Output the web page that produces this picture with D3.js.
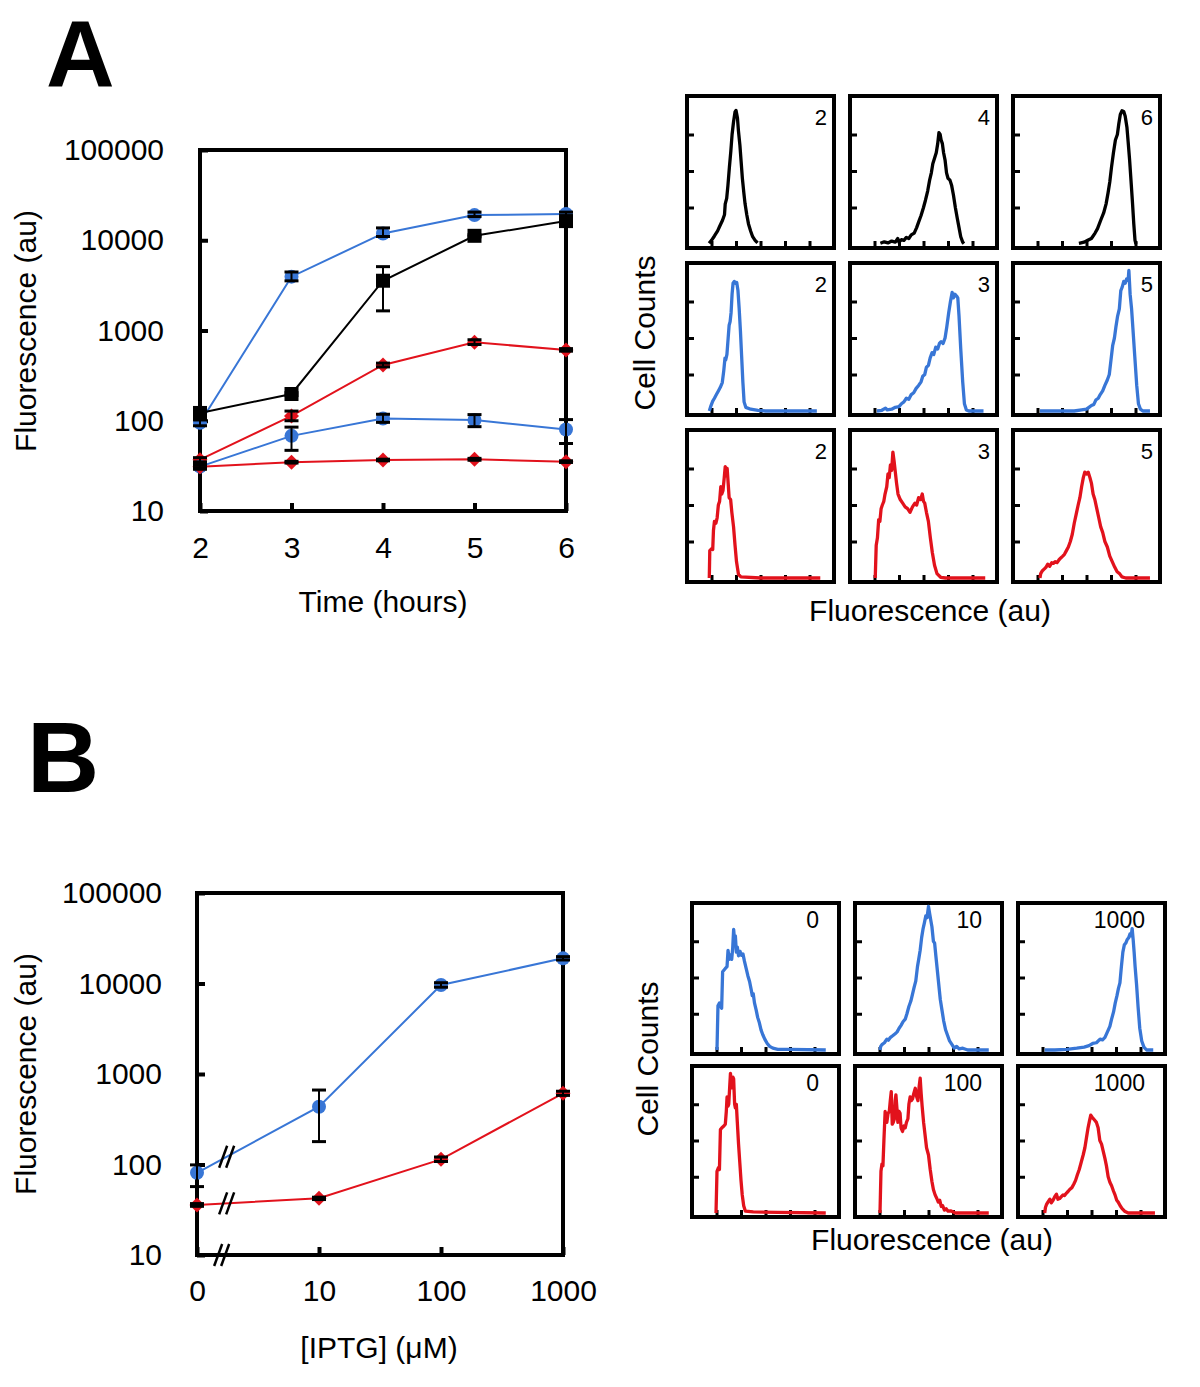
<!DOCTYPE html>
<html><head><meta charset="utf-8">
<script src="https://cdn.jsdelivr.net/npm/d3@7"></script>
<style>
body{margin:0;background:#fff;}
svg text{font-family:"Liberation Sans",Arial,Helvetica,sans-serif;fill:#000;}
</style></head><body>
<svg id="c" width="1200" height="1387" xmlns="http://www.w3.org/2000/svg"></svg>
<script>
// ---------------- DATA ----------------
const BLUE = "#3876d6", RED = "#e2121c", BLACK = "#000";
// Panel A time course
const timeHours = [2, 3, 4, 5, 6];
const fluorTicks = [10, 100, 1000, 10000, 100000];
const blueHigh   = [95, 3950, 11900, 19000, 19500];
const blueHighLo = [88, 3550, 11000, 18300, 18500];
const blueHighHi = [102, 4450, 13700, 20500, 20500];
const blackSq    = [122, 198, 3560, 11200, 16300];
const blackSqLo  = [115, 190, 1650, 10900, 15500];
const blackSqHi  = [128, 205, 5100, 11500, 17300];
const redHigh    = [37, 113, 415, 740, 608];
const redHighLo  = [35, 100, 395, 700, 590];
const redHighHi  = [39, 128, 435, 790, 630];
const blueLow    = [31, 68, 106, 102, 80];
const blueLowLo  = [29, 47, 96, 86, 56];
const blueLowHi  = [33, 85, 118, 117, 103];
const redLow     = [31, 34.6, 36.7, 37.4, 35.2];
const redLowLo   = [30, 34, 36, 36.5, 34.5];
const redLowHi   = [32, 35.5, 37.5, 38.3, 36];
// Panel B IPTG dose response
const iptgConc   = [0, 10, 100, 1000];
const iptgLabels = ["0", "10", "100", "1000"];
const blueIptg   = [81, 435, 9620, 18970];
const blueIptgLo = [57, 179, 9100, 18200];
const blueIptgHi = [99, 665, 10200, 19800];
const redIptg    = [35.7, 42.3, 114, 612];
const redIptgLo  = [34.5, 41, 108, 580];
const redIptgHi  = [37, 43.5, 121, 645];

// Histograms: [x (0..6 log-fluor units), y (0..4 count units)]
const hA_k2 = [[0.9,0.02],[1.0,0.1],[1.12,0.22],[1.25,0.36],[1.33,0.48],[1.45,0.65],[1.53,0.8],[1.56,1.1],[1.62,1.25],[1.67,1.6],[1.73,2.1],[1.79,2.55],[1.84,3.0],[1.9,3.35],[1.96,3.62],[2.0,3.66],[2.06,3.45],[2.1,3.1],[2.16,2.7],[2.21,2.25],[2.26,1.8],[2.32,1.4],[2.37,1.1],[2.44,0.8],[2.51,0.55],[2.6,0.35],[2.68,0.2],[2.78,0.1],[2.88,0.03]];
const hA_k4 = [[1.24,0.02],[1.4,0.06],[1.55,0.03],[1.7,0.08],[1.85,0.05],[1.95,0.15],[2.0,0.05],[2.1,0.12],[2.2,0.1],[2.3,0.18],[2.4,0.15],[2.5,0.25],[2.62,0.3],[2.72,0.45],[2.8,0.6],[2.9,0.78],[3.0,1.0],[3.08,1.2],[3.17,1.45],[3.25,1.75],[3.32,1.95],[3.38,2.2],[3.45,2.35],[3.52,2.5],[3.58,2.75],[3.63,3.05],[3.68,3.0],[3.72,2.85],[3.77,2.75],[3.82,2.5],[3.88,2.3],[3.94,1.95],[4.0,1.8],[4.08,1.75],[4.15,1.6],[4.22,1.35],[4.3,1.0],[4.38,0.7],[4.45,0.45],[4.52,0.2],[4.6,0.05],[4.65,0.01]];
const hA_k6 = [[2.69,0.02],[2.9,0.05],[3.05,0.1],[3.2,0.15],[3.35,0.3],[3.45,0.42],[3.58,0.65],[3.7,0.85],[3.8,1.1],[3.88,1.4],[3.95,1.7],[4.02,2.1],[4.1,2.5],[4.18,2.85],[4.26,3.0],[4.32,3.3],[4.38,3.55],[4.45,3.65],[4.52,3.63],[4.58,3.5],[4.65,3.2],[4.7,2.8],[4.76,2.3],[4.82,1.7],[4.88,1.1],[4.93,0.55],[4.98,0.1],[5.02,0.0]];
const hA_b2 = [[0.91,0.0],[0.98,0.15],[1.05,0.27],[1.12,0.35],[1.2,0.45],[1.28,0.55],[1.36,0.65],[1.44,0.78],[1.5,1.1],[1.55,1.45],[1.58,1.4],[1.63,1.55],[1.68,2.0],[1.72,2.35],[1.76,2.45],[1.8,2.7],[1.84,3.2],[1.88,3.5],[1.93,3.55],[1.98,3.5],[2.03,3.52],[2.08,3.3],[2.13,2.8],[2.18,2.2],[2.23,1.5],[2.28,0.8],[2.33,0.25],[2.4,0.1],[2.6,0.05],[2.9,0.02],[3.2,0.0],[4.0,0.0],[5.3,0.0]];
const hA_b3 = [[1.1,0.0],[1.3,0.02],[1.45,0.08],[1.52,0.03],[1.7,0.05],[1.85,0.1],[2.0,0.12],[2.1,0.2],[2.2,0.25],[2.3,0.35],[2.4,0.32],[2.5,0.45],[2.6,0.5],[2.7,0.62],[2.8,0.7],[2.9,0.8],[2.97,0.95],[3.05,1.0],[3.12,1.2],[3.2,1.25],[3.27,1.45],[3.35,1.6],[3.42,1.55],[3.5,1.75],[3.58,1.7],[3.65,1.85],[3.72,1.9],[3.8,1.85],[3.88,2.0],[3.95,2.3],[4.03,2.7],[4.1,3.0],[4.17,3.25],[4.22,3.1],[4.28,3.2],[4.35,3.15],[4.4,3.1],[4.45,2.6],[4.52,1.7],[4.6,0.8],[4.67,0.2],[4.75,0.03],[4.85,0.0],[5.45,0.0]];
const hA_b5 = [[1.1,0],[2.0,0],[2.5,0.0],[2.8,0.03],[3.0,0.05],[3.1,0.1],[3.2,0.15],[3.3,0.18],[3.38,0.3],[3.48,0.35],[3.56,0.45],[3.66,0.55],[3.75,0.7],[3.85,0.85],[3.93,1.0],[4.0,1.4],[4.07,1.8],[4.14,2.0],[4.2,2.3],[4.27,2.6],[4.34,2.8],[4.4,3.3],[4.46,3.4],[4.52,3.55],[4.58,3.5],[4.64,3.62],[4.7,3.58],[4.73,3.85],[4.78,3.2],[4.84,2.8],[4.9,2.2],[4.97,1.5],[5.05,0.7],[5.12,0.2],[5.2,0.05],[5.3,0],[5.59,0]];
const hA_r2 = [[0.91,0],[0.93,0.75],[1.0,0.8],[1.05,0.78],[1.08,1.3],[1.12,1.55],[1.18,1.5],[1.23,1.65],[1.28,2.0],[1.33,2.1],[1.38,2.5],[1.42,2.3],[1.47,2.4],[1.52,2.75],[1.56,3.05],[1.6,2.8],[1.64,3.0],[1.68,2.6],[1.72,2.2],[1.78,2.15],[1.83,1.8],[1.9,1.4],[1.96,0.9],[2.02,0.45],[2.1,0.1],[2.2,0.03],[3.0,0],[5.44,0]];
const hA_r3 = [[1.03,0],[1.07,0.9],[1.12,1.1],[1.17,1.6],[1.22,1.55],[1.27,1.9],[1.32,2.0],[1.38,2.1],[1.43,2.3],[1.5,2.5],[1.55,2.85],[1.6,2.75],[1.65,3.1],[1.7,2.95],[1.75,3.45],[1.8,3.2],[1.85,2.9],[1.9,2.6],[1.96,2.3],[2.05,2.15],[2.15,2.05],[2.25,1.95],[2.35,1.9],[2.45,1.8],[2.55,1.95],[2.65,2.05],[2.72,2.0],[2.8,2.2],[2.88,2.15],[2.95,2.3],[3.0,2.1],[3.05,2.05],[3.12,1.8],[3.2,1.55],[3.28,1.1],[3.36,0.7],[3.45,0.35],[3.55,0.12],[3.7,0.02],[3.9,0],[5.52,0]];
const hA_r5 = [[1.1,0],[1.13,0.12],[1.2,0.2],[1.28,0.25],[1.35,0.3],[1.42,0.38],[1.5,0.32],[1.58,0.42],[1.65,0.4],[1.72,0.45],[1.8,0.42],[1.88,0.5],[1.95,0.55],[2.03,0.6],[2.1,0.65],[2.18,0.75],[2.26,0.85],[2.34,1.0],[2.42,1.2],[2.5,1.5],[2.58,1.75],[2.66,2.0],[2.73,2.2],[2.8,2.5],[2.87,2.75],[2.93,2.9],[3.0,2.85],[3.07,2.9],[3.14,2.75],[3.2,2.6],[3.27,2.3],[3.34,2.15],[3.42,1.9],[3.5,1.65],[3.58,1.4],[3.66,1.25],[3.75,1.0],[3.85,0.85],[3.95,0.6],[4.05,0.45],[4.15,0.3],[4.25,0.17],[4.35,0.12],[4.45,0.03],[4.6,0],[5.59,0]];
const hB_b0 = [[1.02,0],[1.06,1.22],[1.12,1.3],[1.17,1.2],[1.21,1.15],[1.25,2.16],[1.3,2.2],[1.36,2.25],[1.43,2.3],[1.47,2.75],[1.52,2.5],[1.57,2.62],[1.62,2.5],[1.66,2.8],[1.7,3.33],[1.74,3.0],[1.77,3.15],[1.81,2.7],[1.85,2.84],[1.9,2.6],[1.96,2.72],[2.02,2.61],[2.08,2.65],[2.14,2.45],[2.21,2.25],[2.28,2.05],[2.35,1.89],[2.42,1.65],[2.46,1.5],[2.5,1.55],[2.55,1.3],[2.62,1.1],[2.68,0.9],[2.75,0.75],[2.82,0.55],[2.89,0.42],[2.97,0.3],[3.07,0.18],[3.17,0.1],[3.3,0.05],[3.5,0.02],[4.0,0.02],[5.46,0]];
const hB_b10 = [[1.02,0],[1.05,0.1],[1.1,0.15],[1.2,0.2],[1.3,0.3],[1.36,0.27],[1.45,0.35],[1.55,0.4],[1.64,0.45],[1.72,0.5],[1.8,0.6],[1.88,0.68],[1.96,0.78],[2.05,0.85],[2.12,1.0],[2.2,1.2],[2.28,1.35],[2.35,1.55],[2.42,1.75],[2.48,1.9],[2.55,2.3],[2.6,2.5],[2.66,2.75],[2.72,3.1],[2.78,3.35],[2.83,3.5],[2.89,3.7],[2.94,3.65],[3.0,3.96],[3.05,3.75],[3.1,3.55],[3.14,3.4],[3.2,3.0],[3.25,2.95],[3.3,2.6],[3.36,2.2],[3.42,1.8],[3.48,1.4],[3.55,1.1],[3.62,0.8],[3.7,0.55],[3.78,0.4],[3.86,0.25],[3.96,0.15],[4.05,0.05],[4.15,0.1],[4.25,0.03],[4.4,0.05],[4.6,0],[5.46,0]];
const hB_b1000 = [[1.09,0],[1.5,0],[2.0,0.02],[2.4,0.05],[2.7,0.08],[2.9,0.12],[3.05,0.18],[3.2,0.2],[3.35,0.3],[3.45,0.28],[3.55,0.35],[3.65,0.5],[3.75,0.65],[3.82,0.85],[3.9,1.05],[3.97,1.3],[4.04,1.5],[4.1,1.7],[4.16,1.85],[4.22,2.3],[4.28,2.7],[4.34,2.9],[4.4,2.95],[4.46,3.05],[4.52,3.1],[4.57,3.2],[4.62,3.15],[4.66,3.35],[4.7,3.05],[4.74,2.7],[4.78,2.3],[4.84,1.8],[4.9,1.2],[4.97,0.6],[5.05,0.25],[5.14,0.08],[5.25,0],[5.52,0]];
const hB_r0 = [[0.98,0],[1.02,1.15],[1.08,1.25],[1.12,1.2],[1.16,2.3],[1.22,2.35],[1.3,2.4],[1.36,2.45],[1.4,2.8],[1.43,3.2],[1.47,2.95],[1.5,3.0],[1.54,3.5],[1.57,3.85],[1.6,3.6],[1.64,3.45],[1.67,3.75],[1.7,3.7],[1.74,3.0],[1.77,2.9],[1.81,3.0],[1.85,2.5],[1.9,1.9],[1.95,1.4],[2.0,0.9],[2.05,0.5],[2.11,0.2],[2.18,0.05],[2.5,0.03],[3.5,0.02],[5.46,0]];
const hB_r100 = [[1.02,0],[1.06,1.15],[1.1,1.35],[1.14,1.3],[1.18,2.0],[1.23,2.8],[1.27,2.6],[1.3,2.5],[1.35,2.75],[1.4,2.8],[1.44,3.1],[1.48,3.35],[1.52,2.45],[1.56,2.5],[1.61,2.6],[1.64,3.1],[1.67,3.26],[1.71,2.9],[1.75,2.5],[1.8,2.8],[1.84,2.75],[1.88,2.35],[1.94,2.25],[2.0,2.4],[2.05,2.35],[2.1,2.5],[2.16,2.6],[2.2,3.0],[2.25,3.2],[2.3,3.1],[2.35,3.15],[2.4,3.3],[2.46,3.44],[2.52,3.2],[2.57,3.1],[2.62,3.5],[2.66,3.72],[2.7,3.3],[2.74,2.95],[2.8,2.5],[2.86,2.15],[2.92,1.8],[3.0,1.6],[3.07,1.2],[3.14,0.87],[3.2,0.65],[3.27,0.5],[3.34,0.4],[3.4,0.3],[3.46,0.35],[3.52,0.18],[3.58,0.2],[3.65,0.08],[3.72,0.12],[3.8,0.05],[3.9,0.06],[4.1,0.0],[5.46,0]];
const hB_r1000 = [[1.09,0],[1.12,0.15],[1.16,0.23],[1.22,0.3],[1.3,0.38],[1.36,0.28],[1.43,0.35],[1.5,0.45],[1.57,0.52],[1.63,0.38],[1.7,0.4],[1.77,0.45],[1.84,0.5],[1.9,0.48],[1.98,0.55],[2.05,0.6],[2.11,0.65],[2.2,0.7],[2.28,0.8],[2.35,0.9],[2.42,1.05],[2.5,1.2],[2.58,1.4],[2.66,1.6],[2.73,1.8],[2.8,2.1],[2.86,2.35],[2.92,2.55],[2.97,2.7],[3.02,2.65],[3.08,2.6],[3.14,2.55],[3.2,2.5],[3.27,2.35],[3.34,2.0],[3.41,1.9],[3.48,1.7],[3.55,1.5],[3.61,1.3],[3.68,1.0],[3.75,0.85],[3.82,0.75],[3.9,0.6],[3.96,0.5],[4.03,0.35],[4.09,0.3],[4.17,0.2],[4.25,0.12],[4.35,0.05],[4.5,0],[5.59,0]];
const histLabelsA = [["2","4","6"],["2","3","5"],["2","3","5"]];
const histLabelsB = [["0","10","1000"],["0","100","1000"]];

// ---------------- DRAWING ----------------
const svg = d3.select("#c");

function frame(x, y, w, h) {
  svg.append("rect").attr("x", x).attr("y", y).attr("width", w).attr("height", h)
    .attr("fill", "none").attr("stroke", "#000").attr("stroke-width", 4);
}

function styleAxis(g, fs) {
  g.select(".domain").remove();
  g.selectAll(".tick line").attr("stroke", "#000").attr("stroke-width", 4);
  g.selectAll(".tick text").attr("font-size", fs).attr("fill", "#000")
    .attr("font-family", '"Liberation Sans", Arial, sans-serif');
}

function marker(g, type, x, y, color) {
  if (type === "circle") g.append("circle").attr("cx", x).attr("cy", y).attr("r", 7).attr("fill", color);
  else if (type === "square") g.append("path").attr("d", d3.symbol(d3.symbolSquare, 196)()).attr("transform", `translate(${x},${y})`).attr("fill", color);
  else g.append("path").attr("d", d3.symbol(d3.symbolSquare, 112)()).attr("transform", `translate(${x},${y}) rotate(45)`).attr("fill", color);
}

function drawSeries(xs, ys, series) {
  const g = svg.append("g");
  const line = d3.line().x(d => d[0]).y(d => d[1]);
  series.forEach(s => {
    const pts = s.v.map((v, i) => [xs(s.x[i]), ys(v)]);
    g.append("path").attr("d", line(pts)).attr("fill", "none").attr("stroke", s.c).attr("stroke-width", 2);
  });
  series.forEach(s => {
    s.v.forEach((v, i) => marker(g, s.m, xs(s.x[i]), ys(v), s.c));
  });
  series.forEach(s => {
    s.v.forEach((v, i) => {
      const x = xs(s.x[i]), y0 = ys(s.lo[i]), y1 = ys(s.hi[i]);
      g.append("line").attr("x1", x).attr("x2", x).attr("y1", y0).attr("y2", y1).attr("stroke", "#000").attr("stroke-width", 2);
      [y0, y1].forEach(yy => g.append("line").attr("x1", x - 7).attr("x2", x + 7).attr("y1", yy).attr("y2", yy).attr("stroke", "#000").attr("stroke-width", 3));
    });
  });
}

// ---- Panel A main chart ----
const axL = 200, axR = 566, axT = 150, axB = 511;
const xA = d3.scaleLinear().domain([2, 6]).range([axL, axR]);
const yA = d3.scaleLog().domain([10, 100000]).range([axB, axT]);
frame(axL, axT, axR - axL, axB - axT);
styleAxis(svg.append("g").attr("transform", `translate(${axL},0)`)
  .call(d3.axisLeft(yA).tickValues(fluorTicks).tickFormat(d3.format("d")).tickSizeInner(-8).tickSizeOuter(0).tickPadding(36)), 30);
styleAxis(svg.append("g").attr("transform", `translate(0,${axB})`)
  .call(d3.axisBottom(xA).tickValues(timeHours).tickFormat(d3.format("d")).tickSizeInner(-8).tickSizeOuter(0).tickPadding(26)), 30);
drawSeries(xA, yA, [
  {x: timeHours, v: blueHigh, lo: blueHighLo, hi: blueHighHi, c: BLUE, m: "circle"},
  {x: timeHours, v: blackSq, lo: blackSqLo, hi: blackSqHi, c: BLACK, m: "square"},
  {x: timeHours, v: redHigh, lo: redHighLo, hi: redHighHi, c: RED, m: "diamond"},
  {x: timeHours, v: blueLow, lo: blueLowLo, hi: blueLowHi, c: BLUE, m: "circle"},
  {x: timeHours, v: redLow, lo: redLowLo, hi: redLowHi, c: RED, m: "diamond"}
]);
svg.append("text").attr("x", 383).attr("y", 612).attr("text-anchor", "middle").attr("font-size", 30).text("Time (hours)");
svg.append("text").attr("transform", "translate(36,331) rotate(-90)").attr("text-anchor", "middle").attr("font-size", 30).text("Fluorescence (au)");
svg.append("text").attr("x", 46).attr("y", 87).attr("font-size", 95).attr("font-weight", "bold").text("A");

// ---- Panel B main chart ----
const bL = 197, bR = 563, bT = 893, bB = 1255;
const xB = d3.scaleLog().domain([1, 1000]).range([bL, bR]);
const yB = d3.scaleLog().domain([10, 100000]).range([bB, bT]);
const xPos = c => Math.max(c, 1);
frame(bL, bT, bR - bL, bB - bT);
styleAxis(svg.append("g").attr("transform", `translate(${bL},0)`)
  .call(d3.axisLeft(yB).tickValues(fluorTicks).tickFormat(d3.format("d")).tickSizeInner(-8).tickSizeOuter(0).tickPadding(35)), 30);
styleAxis(svg.append("g").attr("transform", `translate(0,${bB})`)
  .call(d3.axisBottom(xB).tickValues(iptgConc.map(xPos)).tickFormat((d, i) => iptgLabels[i]).tickSizeInner(-8).tickSizeOuter(0).tickPadding(25)), 30);
const xB2 = v => xB(xPos(v));
drawSeries(xB2, yB, [
  {x: iptgConc, v: blueIptg, lo: blueIptgLo, hi: blueIptgHi, c: BLUE, m: "circle"},
  {x: iptgConc, v: redIptg, lo: redIptgLo, hi: redIptgHi, c: RED, m: "diamond"}
]);
// axis-break marks (//) between 0 and 10
function breakMark(cx, cy) {
  [-3.5, 3.5].forEach(dx => svg.append("line")
    .attr("x1", cx + dx - 4).attr("y1", cy + 11).attr("x2", cx + dx + 4).attr("y2", cy - 11)
    .attr("stroke", "#000").attr("stroke-width", 2.5));
}
const breakX = 1.75;
[blueIptg, redIptg].forEach(vals => {
  const x0 = xB(1), x1 = xB(10), y0 = yB(vals[0]), y1 = yB(vals[1]);
  const bx = xB(breakX);
  breakMark(bx, y0 + (y1 - y0) * (bx - x0) / (x1 - x0));
});
breakMark(xB(breakX) - 5, bB);
svg.append("text").attr("x", 379).attr("y", 1358).attr("text-anchor", "middle").attr("font-size", 30).text("[IPTG] (μM)");
svg.append("text").attr("transform", "translate(36,1074) rotate(-90)").attr("text-anchor", "middle").attr("font-size", 30).text("Fluorescence (au)");
svg.append("text").attr("x", 27).attr("y", 792).attr("font-size", 100).attr("font-weight", "bold").text("B");

// ---- Histograms ----
function hist(left, top, w, h, data, color, label, fs, labOff, labBase) {
  frame(left, top, w, h);
  const x = d3.scaleLinear().domain([0, 6]).range([left, left + w]);
  const y = d3.scaleLinear().domain([0, 4]).range([top + h - 4, top + 2]);
  const gl = svg.append("g").attr("transform", `translate(${left},0)`)
    .call(d3.axisLeft(y).tickValues([1, 2, 3]).tickFormat("").tickSizeInner(-7).tickSizeOuter(0));
  gl.select(".domain").remove();
  gl.selectAll(".tick line").attr("stroke", "#000").attr("stroke-width", 3);
  const gb = svg.append("g").attr("transform", `translate(0,${top + h})`)
    .call(d3.axisBottom(x).tickValues([1, 2, 3, 4, 5]).tickFormat("").tickSizeInner(-7).tickSizeOuter(0));
  gb.select(".domain").remove();
  gb.selectAll(".tick line").attr("stroke", "#000").attr("stroke-width", 3);
  svg.append("path").attr("d", d3.line().x(d => x(d[0])).y(d => y(d[1]))(data))
    .attr("fill", "none").attr("stroke", color).attr("stroke-width", 3.3).attr("stroke-linejoin", "round");
  svg.append("text").attr("x", left + w - labOff).attr("y", top + labBase).attr("text-anchor", "end").attr("font-size", fs).text(label);
}
const hAleft = [687, 850, 1013], hAtop = [96, 263, 430];
const histA = [[hA_k2, hA_k4, hA_k6], [hA_b2, hA_b3, hA_b5], [hA_r2, hA_r3, hA_r5]];
const colA = [BLACK, BLUE, RED];
histA.forEach((row, r) => row.forEach((d, c) => hist(hAleft[c], hAtop[r], 147, 152, d, colA[r], histLabelsA[r][c], 22, 7, 29)));
svg.append("text").attr("transform", "translate(655,333) rotate(-90)").attr("text-anchor", "middle").attr("font-size", 30).text("Cell Counts");
svg.append("text").attr("x", 930).attr("y", 621).attr("text-anchor", "middle").attr("font-size", 30).text("Fluorescence (au)");

const hBleft = [692, 855, 1018], hBtop = [903, 1066];
const histB = [[hB_b0, hB_b10, hB_b1000], [hB_r0, hB_r100, hB_r1000]];
const colB = [BLUE, RED];
histB.forEach((row, r) => row.forEach((d, c) => hist(hBleft[c], hBtop[r], 147, 151, d, colB[r], histLabelsB[r][c], 23, 20, 25)));
svg.append("text").attr("transform", "translate(658,1059) rotate(-90)").attr("text-anchor", "middle").attr("font-size", 30).text("Cell Counts");
svg.append("text").attr("x", 932).attr("y", 1250).attr("text-anchor", "middle").attr("font-size", 30).text("Fluorescence (au)");
</script>
</body></html>
